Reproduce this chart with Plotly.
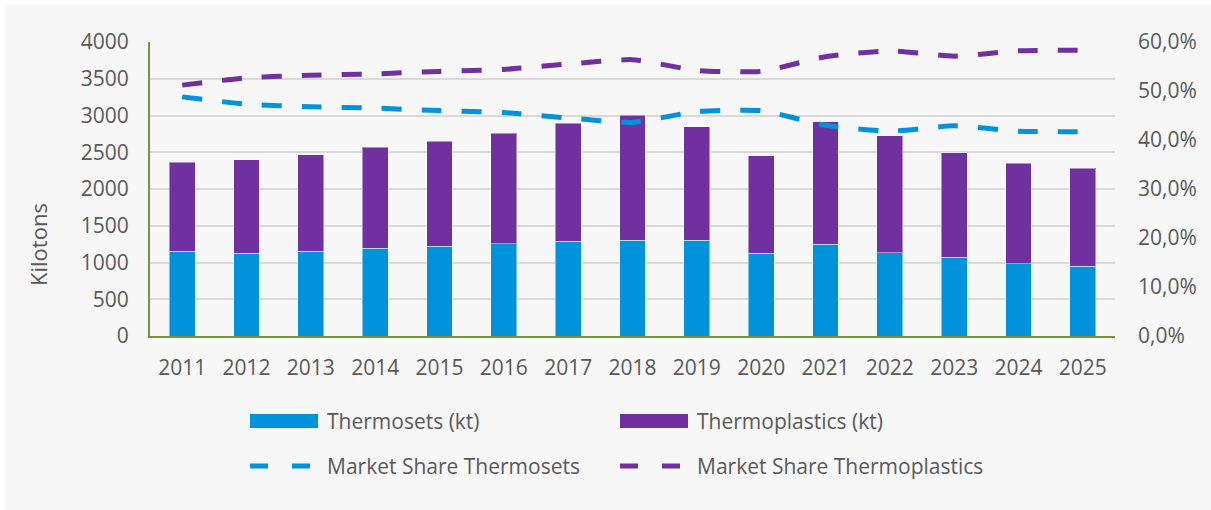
import plotly.graph_objects as go

years = [str(y) for y in range(2011, 2026)]
thermosets_kt = [1156, 1129, 1152, 1193, 1220, 1256, 1288, 1306, 1302, 1125, 1247, 1134, 1070, 980, 948]
thermoplastics_kt = [1211, 1266, 1315, 1378, 1433, 1501, 1610, 1696, 1546, 1328, 1665, 1591, 1424, 1369, 1333]
share_thermosets = [48.8, 47.3, 46.8, 46.5, 46.0, 45.6, 44.5, 43.6, 45.8, 46.0, 43.0, 41.8, 42.9, 41.8, 41.7]
share_thermoplastics = [51.2, 52.7, 53.2, 53.5, 54.0, 54.4, 55.5, 56.4, 54.2, 54.0, 57.0, 58.2, 57.1, 58.2, 58.3]

left_ticks = list(range(0, 4001, 500))
right_ticks = [0, 10, 20, 30, 40, 50, 60]
right_labels = ["0,0%", "10,0%", "20,0%", "30,0%", "40,0%", "50,0%", "60,0%"]
legend_names = ["Thermosets (kt)", "Thermoplastics (kt)", "Market Share Thermosets", "Market Share Thermoplastics"]

BLUE = "#0092DA"
PURPLE = "#7030A0"
TXT = "#595959"
FONT = "Open Sans"
FS = 21

W, H = 1211, 510
L, R, T, B = 150, 96, 42, 174
pw, ph = W - L - R, H - T - B


def px_x(p):
    return (p - L) / pw


def px_y(p):
    return (H - B - p) / ph


fig = go.Figure()
fig.add_trace(go.Bar(x=years, y=thermosets_kt, name=legend_names[0], marker_color=BLUE,
                     marker_line=dict(width=1, color="rgba(255,255,255,0.45)")))
fig.add_trace(go.Bar(x=years, y=thermoplastics_kt, name=legend_names[1], marker_color=PURPLE,
                     marker_line=dict(width=1, color="rgba(255,255,255,0.45)")))
fig.add_trace(go.Scatter(x=years, y=share_thermosets, name=legend_names[2], yaxis="y2",
                         mode="lines", line=dict(color=BLUE, width=5, dash="20px,20px", shape="spline", smoothing=0.5)))
fig.add_trace(go.Scatter(x=years, y=share_thermoplastics, name=legend_names[3], yaxis="y2",
                         mode="lines", line=dict(color=PURPLE, width=5, dash="20px,20px", shape="spline", smoothing=0.5)))

shapes = [
    # white strips at the left and top edges
    dict(type="rect", xref="paper", yref="paper", x0=px_x(0), x1=px_x(5), y0=px_y(H), y1=px_y(0),
         fillcolor="white", line=dict(width=0), layer="below"),
    dict(type="rect", xref="paper", yref="paper", x0=px_x(0), x1=px_x(W), y0=px_y(5), y1=px_y(0),
         fillcolor="white", line=dict(width=0), layer="below"),
]
annotations = [dict(text="Kilotons", xref="paper", yref="paper", x=px_x(38), y=px_y(245),
                    showarrow=False, textangle=-90, font=dict(size=22, color=TXT),
                    xanchor="center", yanchor="middle")]

# custom legend: symbol boxes / dashes + text
legend_items = [
    (legend_names[0], BLUE, "bar", 250, 421),
    (legend_names[1], PURPLE, "bar", 620, 421),
    (legend_names[2], BLUE, "line", 248, 466),
    (legend_names[3], PURPLE, "line", 618, 466),
]
for name, color, kind, x0, yc in legend_items:
    if kind == "bar":
        shapes.append(dict(type="rect", xref="paper", yref="paper", x0=px_x(x0), x1=px_x(x0 + 68),
                           y0=px_y(yc + 7), y1=px_y(yc - 7), fillcolor=color, line=dict(width=0)))
    else:
        for dx in (0, 42):
            shapes.append(dict(type="line", xref="paper", yref="paper", x0=px_x(x0 + dx + 2),
                               x1=px_x(x0 + dx + 20), y0=px_y(yc), y1=px_y(yc),
                               line=dict(color=color, width=5)))
    annotations.append(dict(text=name, xref="paper", yref="paper", x=px_x(x0 + 75 if kind == "bar" else x0 + 77),
                            y=px_y(yc), showarrow=False, xanchor="left", yanchor="middle",
                            font=dict(size=FS, color=TXT)))

fig.update_layout(
    width=W, height=H,
    margin=dict(l=L, r=R, t=T, b=B),
    paper_bgcolor="#F7F7F7", plot_bgcolor="#F7F7F7",
    barmode="stack", bargap=0.6,
    font=dict(family=FONT, size=FS, color=TXT),
    showlegend=False,
    xaxis=dict(showline=True, linecolor="#77933C", linewidth=2, ticks="", showgrid=False,
               tickfont=dict(size=FS, color=TXT), ticklabelstandoff=12),
    yaxis=dict(range=[0, 4000], tickvals=left_ticks, showgrid=True, gridcolor="#D9D9D9", gridwidth=2,
               showline=True, linecolor="#77933C", linewidth=2, zeroline=False,
               tickfont=dict(size=FS, color=TXT), ticklabelstandoff=15),
    yaxis2=dict(range=[0, 60], overlaying="y", side="right", tickvals=right_ticks, ticktext=right_labels,
                showgrid=False, zeroline=False, showline=False,
                tickfont=dict(size=FS, color=TXT), ticklabelstandoff=22),
    annotations=annotations,
    shapes=shapes,
)

fig.write_html("out.html", config={"displayModeBar": False},
               post_script="document.body.style.margin='0';document.body.style.overflow='hidden';")
